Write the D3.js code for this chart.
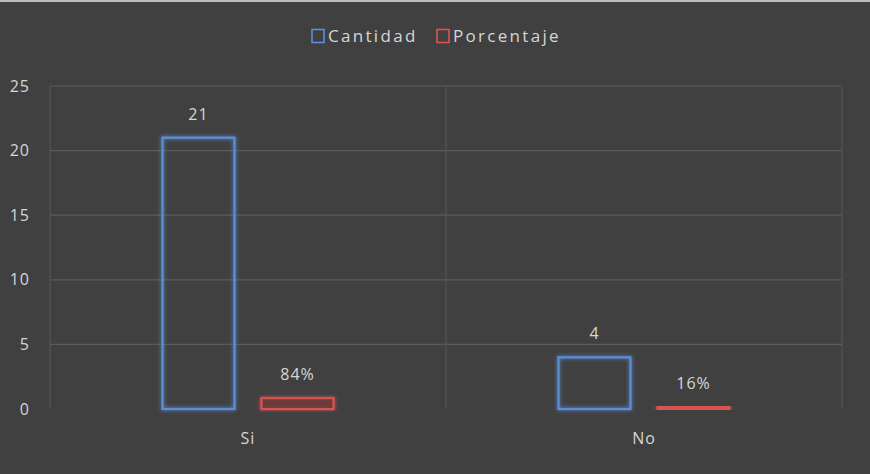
<!DOCTYPE html>
<html><head><meta charset="utf-8">
<script src="https://cdn.jsdelivr.net/npm/d3@7"></script>
<style>
html,body{margin:0;padding:0;background:#404040;}
svg{display:block;}
text{font-family:"Open Sans","DejaVu Sans",sans-serif;letter-spacing:1px;}
</style></head>
<body>
<svg id="c" width="870" height="474"></svg>
<script>
const categories = ["Si", "No"];
const seriesNames = ["Cantidad", "Porcentaje"];
const cantidad = [21, 4];
const porcentaje = [0.84, 0.16];
const porcentajeLabels = ["84%", "16%"];
const yTicks = [0, 5, 10, 15, 20, 25];

const W = 870, H = 474;
const m = {left: 50, right: 28, top: 86, bottom: 65};
const txt = "#d6d6d6";
const svg = d3.select("#c");
svg.append("rect").attr("width", W).attr("height", H).attr("fill", "#404040");
svg.append("rect").attr("width", W).attr("height", 2).attr("fill", "#bdbdbd");

const defs = svg.append("defs");
const f = defs.append("filter").attr("id","glow").attr("x","-20%").attr("y","-20%").attr("width","140%").attr("height","140%");
f.append("feGaussianBlur").attr("in","SourceGraphic").attr("stdDeviation",2).attr("result","b");
const mg = f.append("feMerge");
mg.append("feMergeNode").attr("in","b");
mg.append("feMergeNode").attr("in","SourceGraphic");

const x = d3.scaleBand().domain(categories).range([m.left, W - m.right]);
const y = d3.scaleLinear().domain([0, 25]).range([H - m.bottom, m.top]);
const inner = d3.scaleBand().domain(seriesNames).range([0, x.bandwidth()]).paddingInner(0.273).paddingOuter(1.136);

// gridlines
const g = svg.append("g");
g.selectAll("line.h").data(yTicks.filter(d => d > 0)).join("line")
  .attr("x1", m.left).attr("x2", W - m.right)
  .attr("y1", d => y(d)).attr("y2", d => y(d))
  .attr("stroke", "#5a5a5a").attr("stroke-width", 1.2);
const vx = [m.left, m.left + x.bandwidth(), W - m.right];
g.selectAll("line.v").data(vx).join("line")
  .attr("x1", d => d).attr("x2", d => d)
  .attr("y1", y(25)).attr("y2", y(0))
  .attr("stroke", "#555555").attr("stroke-width", 1.2);

// y axis labels
const yAxis = d3.axisLeft(y).tickValues(yTicks).tickSize(0).tickPadding(20);
const ya = svg.append("g").attr("transform", `translate(${m.left},0)`).call(yAxis);
ya.select(".domain").remove();
ya.selectAll("text").attr("fill", txt).attr("font-size", 16).attr("font-family", null);

// x axis labels
const xAxis = d3.axisBottom(x).tickSize(0).tickPadding(24);
const xa = svg.append("g").attr("transform", `translate(0,${y(0)})`).call(xAxis);
xa.select(".domain").remove();
xa.selectAll("text").attr("fill", txt).attr("font-size", 16).attr("font-family", null);

const data = categories.map((c, i) => ({c, vals: [
  {s: "Cantidad", v: cantidad[i], label: String(cantidad[i]), stroke: "#5b8fd9", fill: "none"},
  {s: "Porcentaje", v: porcentaje[i], label: porcentajeLabels[i], stroke: "#d9534f", fill: "#6a3a3a"}
]}));

const grp = svg.append("g").selectAll("g").data(data).join("g")
  .attr("transform", d => `translate(${x(d.c)},0)`);
grp.selectAll("rect").data(d => d.vals).join("rect")
  .attr("x", d => inner(d.s)).attr("width", inner.bandwidth())
  .attr("y", d => y(d.v)).attr("height", d => Math.max(0, y(0) - y(d.v)))
  .attr("fill", d => d.fill).attr("stroke", d => d.stroke).attr("stroke-width", 2.2)
  .attr("filter", "url(#glow)");
grp.selectAll("text").data(d => d.vals).join("text")
  .attr("x", d => inner(d.s) + inner.bandwidth() / 2)
  .attr("y", d => y(d.v) - 18)
  .attr("text-anchor", "middle").attr("fill", txt).attr("font-size", 16)
  .text(d => d.label);

// legend
const leg = svg.append("g");
const legItems = [{n: "Cantidad", c: "#5b8fd9", x: 312}, {n: "Porcentaje", c: "#d9534f", x: 437}];
legItems.forEach(it => {
  leg.append("rect").attr("x", it.x).attr("y", 29.5).attr("width", 12).attr("height", 13)
    .attr("fill", "none").attr("stroke", it.c).attr("stroke-width", 1.6);
  leg.append("text").attr("x", it.x + 16).attr("y", 41.5).attr("fill", txt)
    .attr("font-size", 17).style("letter-spacing", "2.3px").text(it.n);
});
</script>
</body></html>
